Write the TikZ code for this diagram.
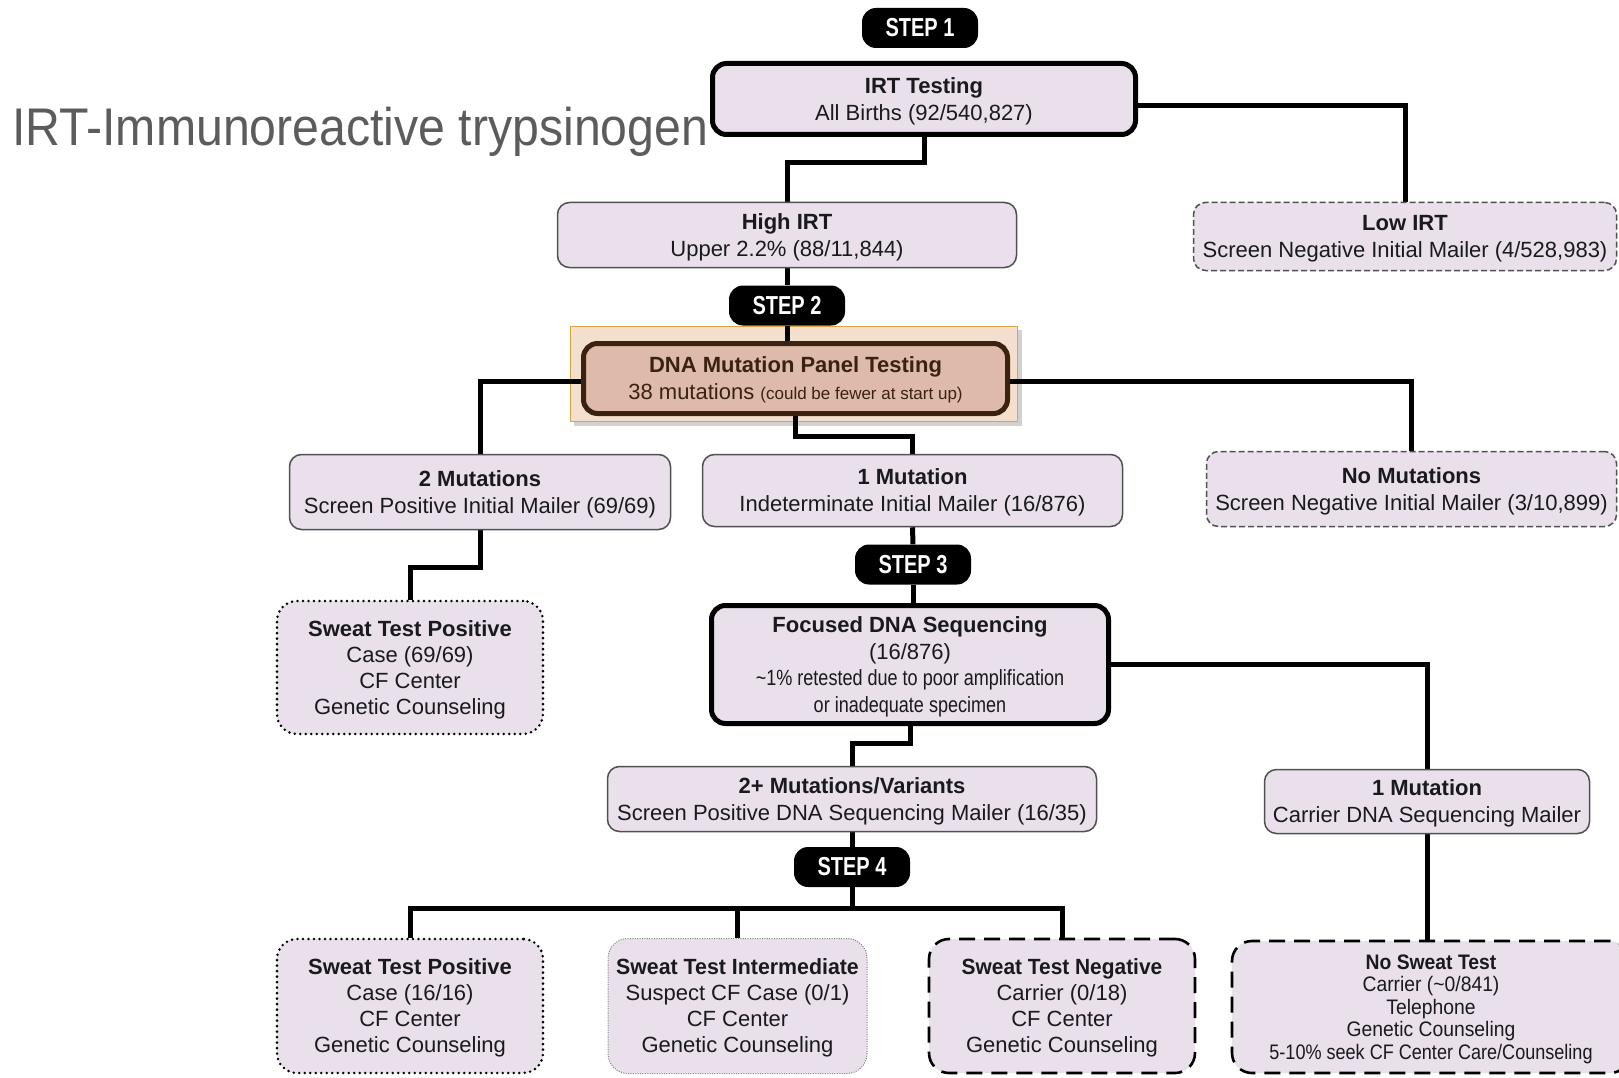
\documentclass[tikz,border=0pt]{standalone}
\usepackage{fontspec}
\setmainfont{Liberation Sans}
\usetikzlibrary{backgrounds}

\definecolor{lav}{RGB}{233,224,236}
\definecolor{dnafill}{RGB}{222,186,170}
\definecolor{hlfill}{RGB}{244,222,205}
\definecolor{hlline}{RGB}{218,166,66}
\definecolor{dnabrown}{RGB}{58,33,16}
\definecolor{titlegray}{RGB}{92,92,92}
\definecolor{edgegray}{RGB}{80,80,80}
\definecolor{txt}{RGB}{25,25,30}

% horizontally condensed text
\newcommand{\cond}[2][0.82]{\scalebox{#1}[1]{#2}}

\tikzset{
  base/.style={align=center, inner sep=0pt, text=txt, fill=lav, text depth=0pt,
               font=\fontsize{22}{27}\selectfont},
  thinbox/.style={base, draw=edgegray, line width=1.5pt, rounded corners=12pt},
  thickbox/.style={base, draw=black, line width=5pt, rounded corners=14pt},
  dashbox/.style={base, draw=edgegray, line width=1.5pt, rounded corners=12pt,
                  dash pattern=on 6pt off 3pt},
  dotbox/.style={base, draw=black, line width=2.8pt, rounded corners=20pt,
                 line cap=round, dash pattern=on 0pt off 5.5pt},
  finedotbox/.style={base, draw=gray, line width=1pt, rounded corners=20pt,
                     dash pattern=on 1pt off 1.4pt},
  longdashbox/.style={base, draw=black, line width=2.6pt, rounded corners=20pt,
                      dash pattern=on 16pt off 9pt},
  steppill/.style={fill=black, text=white, rounded corners=14pt,
                   minimum width=116pt, minimum height=40pt, inner sep=0pt,
                   font=\fontsize{26}{30}\selectfont\bfseries},
  conn/.style={draw=black, line width=5pt, line join=miter},
}

\begin{document}
\begin{tikzpicture}[x=1pt,y=-1pt]
\useasboundingbox (0,0) rectangle (1619,1078);
\clip (0,0) rectangle (1619,1078);

% title
\node[anchor=base west, inner sep=0pt, text=titlegray,
      font=\fontsize{53}{60}\selectfont] (title) at (12,146)
  {\scalebox{0.91}[1]{IRT-Immunoreactive trypsinogen}};

% step 1
\node[steppill] (step1) at (920,28) {\scalebox{0.77}[1]{STEP 1}};
\node[thickbox, minimum width=423pt, minimum height=71pt] (irt) at (924,99)
  {\textbf{IRT Testing}\\All Births (92/540,827)};

\node[thinbox, minimum width=459pt, minimum height=65pt] (highirt) at (787,235)
  {\textbf{High IRT}\\Upper 2.2\% (88/11,844)};
\node[dashbox, minimum width=423pt, minimum height=68pt] (lowirt) at (1405,236.5)
  {\textbf{Low IRT}\\Screen Negative Initial Mailer (4/528,983)};

% step 2
\node[steppill] (step2) at (787,305.5) {\scalebox{0.77}[1]{STEP 2}};
\node[base, fill=dnafill, draw=dnabrown, text=dnabrown, line width=5pt,
      rounded corners=14pt, minimum width=424pt, minimum height=70pt] (dna) at (795.5,378.5)
  {\textbf{DNA Mutation Panel Testing}\\38 mutations {\fontsize{17}{20}\selectfont(could be fewer at start up)}};

\node[thinbox, minimum width=381pt, minimum height=75pt] (twomut) at (480,492)
  {\textbf{2 Mutations}\\Screen Positive Initial Mailer (69/69)};
\node[thinbox, minimum width=420pt, minimum height=72pt] (onemut) at (912.5,490.5)
  {\textbf{1 Mutation}\\Indeterminate Initial Mailer (16/876)};
\node[dashbox, minimum width=410pt, minimum height=75pt] (nomut) at (1411.5,489)
  {\textbf{No Mutations}\\Screen Negative Initial Mailer (3/10,899)};

\node[dotbox, font=\fontsize{22}{26}\selectfont, minimum width=266pt, minimum height=133pt] (sweatpos1) at (410,667.5)
  {\textbf{Sweat Test Positive}\\Case (69/69)\\CF Center\\Genetic Counseling};

% step 3
\node[steppill] (step3) at (913,564.5) {\scalebox{0.77}[1]{STEP 3}};
\node[thickbox, font=\fontsize{22}{26.5}\selectfont, minimum width=397pt, minimum height=118pt] (focused) at (910,664.5)
  {\textbf{Focused DNA Sequencing}\\(16/876)\\\cond{\textasciitilde1\% retested due to poor amplification}\\\cond{or inadequate specimen}};

\node[thinbox, minimum width=489pt, minimum height=65pt] (twoplus) at (852,799)
  {\textbf{2+ Mutations/Variants}\\Screen Positive DNA Sequencing Mailer (16/35)};
\node[thinbox, minimum width=325pt, minimum height=64pt] (carrier) at (1427,801.5)
  {\textbf{1 Mutation}\\Carrier DNA Sequencing Mailer};

% step 4
\node[steppill] (step4) at (852,867) {\scalebox{0.77}[1]{STEP 4}};
\node[dotbox, font=\fontsize{22}{26}\selectfont, minimum width=266pt, minimum height=134pt] (sweatpos2) at (410,1006)
  {\textbf{Sweat Test Positive}\\Case (16/16)\\CF Center\\Genetic Counseling};
\node[finedotbox, font=\fontsize{22}{26}\selectfont, minimum width=259pt, minimum height=135pt] (inter) at (737.5,1006)
  {\textbf{\cond[0.97]{Sweat Test Intermediate}}\\Suspect CF Case (0/1)\\CF Center\\Genetic Counseling};
\node[longdashbox, font=\fontsize{22}{26}\selectfont, minimum width=266pt, minimum height=134pt] (neg) at (1062,1006)
  {\textbf{\cond[0.95]{Sweat Test Negative}}\\Carrier (0/18)\\CF Center\\Genetic Counseling};
\node[longdashbox, font=\fontsize{21}{22.5}\selectfont, minimum width=398pt, minimum height=132pt] (nosweat) at (1431,1007)
  {\textbf{\cond[0.92]{No Sweat Test}}\\\cond[0.92]{Carrier (\textasciitilde0/841)}\\\cond[0.92]{Telephone}\\\cond[0.92]{Genetic Counseling}\\\cond[0.86]{5-10\% seek CF Center Care/Counseling}};

\begin{pgfonlayer}{background}
  \fill[white] (0,0) rectangle (1619,1078);
  % highlight frame behind the panel-testing box
  \fill[black!18] (574,330) rectangle (1022,426);
  \node[draw=hlline, fill=hlfill, line width=1.5pt, inner sep=0pt,
        minimum width=447pt, minimum height=95pt] (hl) at (794,374) {};

  % connectors
  \coordinate (bar) at (852,908);
  \draw[conn] (irt.south) -- ++(0,26) -| (highirt.north);
  \draw[conn] (irt.east |- 0,106) -| (lowirt.north);
  \draw[conn] (highirt.south) -- (step2.north);
  \draw[conn] (step2.south) -- (step2.south |- dna.north);
  \draw[conn] (dna.west |- 0,381) -| (twomut.north);
  \draw[conn] (dna.east |- 0,381) -| (nomut.north);
  \draw[conn] (dna.south) -- ++(0,20) -| (onemut.north);
  \draw[conn] (twomut.south) -- ++(0,37) -| (sweatpos1.north);
  \draw[conn] (onemut.south) -- (step3.north);
  \draw[conn] (step3.south) -- (step3.south |- focused.north);
  \draw[conn] (focused.east |- 0,664) -| (carrier.north);
  \draw[conn] (focused.south) -- ++(0,17) -| (twoplus.north);
  \draw[conn] (twoplus.south) -- (step4.north);
  \draw[conn] (step4.south) -- (bar);
  \draw[conn] (sweatpos2.north) |- (bar) -| (neg.north);
  \draw[conn] (inter.north) -- (inter.north |- bar);
  \draw[conn] (carrier.south) -- (carrier.south |- nosweat.north);
\end{pgfonlayer}
\end{tikzpicture}
\end{document}
